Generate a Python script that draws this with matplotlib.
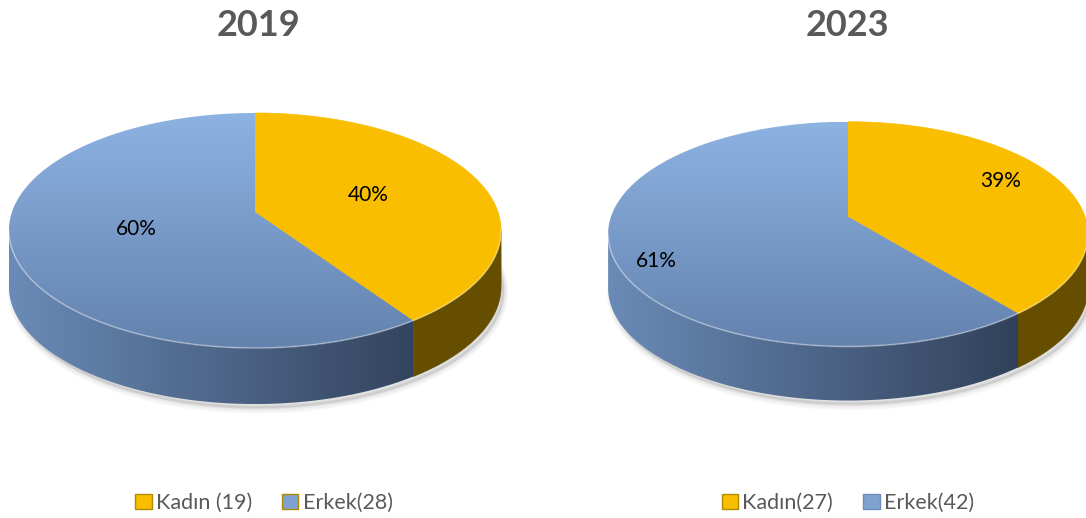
import matplotlib.pyplot as plt
import numpy as np
from matplotlib.patches import Polygon, Patch
from matplotlib.colors import to_rgb

# Data
years = ['2019', '2023']
kadin = [19, 27]
erkek = [28, 42]
legend_labels = [['Kadın (19)', 'Erkek(28)'], ['Kadın(27)', 'Erkek(42)']]

# layout of the two 3D pies (pixel space, y down)
pies = [
    dict(cx=255, cy=212, B=243, A=114.6, k=0.1575, depth=56, lab_r=[0.5, 0.5], lab_shift=0),
    dict(cx=848, cy=216.7, B=237, A=109.7, k=0.155, depth=54, lab_r=[0.76, 0.85], lab_shift=-7),
]
title_x = [259, 847]
legend_x = [264, 848]

gold_top = '#F9BE00'
gold_side = '#664E00'
blue_top = ('#8DB3E3', '#6482AE')
blue_side = ('#6A8BB7', '#27344A')

fig = plt.figure(figsize=(10.86, 5.18), dpi=100)
ax = fig.add_axes([0, 0, 1, 1])
ax.set_xlim(0, 1086)
ax.set_ylim(518, 0)
ax.axis('off')


def proj(p, th, r=1.0):
    t = np.radians(th)
    u, v = r * np.sin(t), r * np.cos(t)
    d = 1 + p['k'] * v
    return p['cx'] + p['B'] * u / d, p['cy'] - p['A'] * v / d


def grad_fill(xy, c0, c1, extent, horizontal, z):
    patch = Polygon(xy, closed=True, fc='none', ec='none')
    ax.add_patch(patch)
    t = np.linspace(0, 1, 256)[:, None]
    cols = np.array(to_rgb(c0)) + (np.array(to_rgb(c1)) - np.array(to_rgb(c0))) * t
    img = cols[None, :, :] if horizontal else cols[:, None, :]
    im = ax.imshow(img, extent=extent, aspect='auto', zorder=z, interpolation='bilinear')
    im.set_clip_path(patch)


for p, yr, kv, ev, labs, tx, lx in zip(pies, years, kadin, erkek, legend_labels, title_x, legend_x):
    vals = np.array([kv, ev], dtype=float)
    fr = vals / vals.sum()
    bounds = np.concatenate([[0], np.cumsum(fr) * 360])
    ths = np.degrees(np.arccos(-p['k']))
    D = p['depth']

    # extent of the whole pie
    allx, ally = proj(p, np.linspace(0, 360, 721))
    x0, x1 = allx.min(), allx.max()
    y0, y1 = ally.min(), ally.max() + D

    # soft shadow
    for i, a in enumerate([0.05, 0.05, 0.06, 0.08]):
        s = 6 - i * 1.5
        ax.fill(allx + 3, ally + D + 3 + s * 0.4, color='gray', alpha=a, lw=s, ec='gray', zorder=1)

    for i in range(2):
        a0, a1 = bounds[i], bounds[i + 1]
        # side wall
        s0, s1 = max(a0, ths), min(a1, 360 - ths)
        if s0 < s1:
            th = np.linspace(s0, s1, 200)
            sx, sy = proj(p, th)
            xy = np.column_stack([np.concatenate([sx, sx[::-1]]),
                                  np.concatenate([sy, sy[::-1] + D])])
            if i == 0:
                ax.add_patch(Polygon(xy, closed=True, fc=gold_side, ec=gold_side, lw=0.5, zorder=2))
            else:
                grad_fill(xy, blue_side[0], blue_side[1], [x0, x1, y1, y0], True, 2)
        # top face
        th = np.linspace(a0, a1, 300)
        tx_, ty_ = proj(p, th)
        xy = np.column_stack([np.concatenate([[p['cx']], tx_]),
                              np.concatenate([[p['cy']], ty_])])
        if i == 0:
            ax.add_patch(Polygon(xy, closed=True, fc=gold_top, ec=gold_top, lw=0.5, zorder=3))
        else:
            grad_fill(xy, blue_top[0], blue_top[1], [x0, x1, y1 - D, y0], False, 3)

    # rim highlight on the front edge
    th = np.linspace(ths, 360 - ths, 300)
    hx, hy = proj(p, th)
    ax.plot(hx, hy, color='white', alpha=0.35, lw=1.2, zorder=4)

    # percentage labels
    for i in range(2):
        mid = (bounds[i] + bounds[i + 1]) / 2 + p['lab_shift']
        lxp, lyp = proj(p, mid, p['lab_r'][i])
        ax.text(lxp, lyp, f'{round(fr[i] * 100)}%', ha='center', va='center',
                fontsize=15, family='Lato', color='black', zorder=5)

    ax.text(tx, 25, yr, ha='center', va='center', fontsize=26, fontweight='bold',
            family='Lato', color='#595959')

    handles = [Patch(fc=gold_top, ec='#B08A00', lw=1),
               Patch(fc='#7FA1CF', ec='#B08A00' if yr == '2019' else '#6E8DB6', lw=1)]
    fig.legend(handles, labs, loc='center', bbox_to_anchor=(lx / 1086, 1 - 503 / 518),
               ncol=2, frameon=False, handlelength=0.75, handleheight=0.75,
               handletextpad=0.2, columnspacing=1.4,
               prop={'family': 'Lato', 'size': 15.5}, labelcolor='#595959')

fig.savefig('out.png', dpi=100)
